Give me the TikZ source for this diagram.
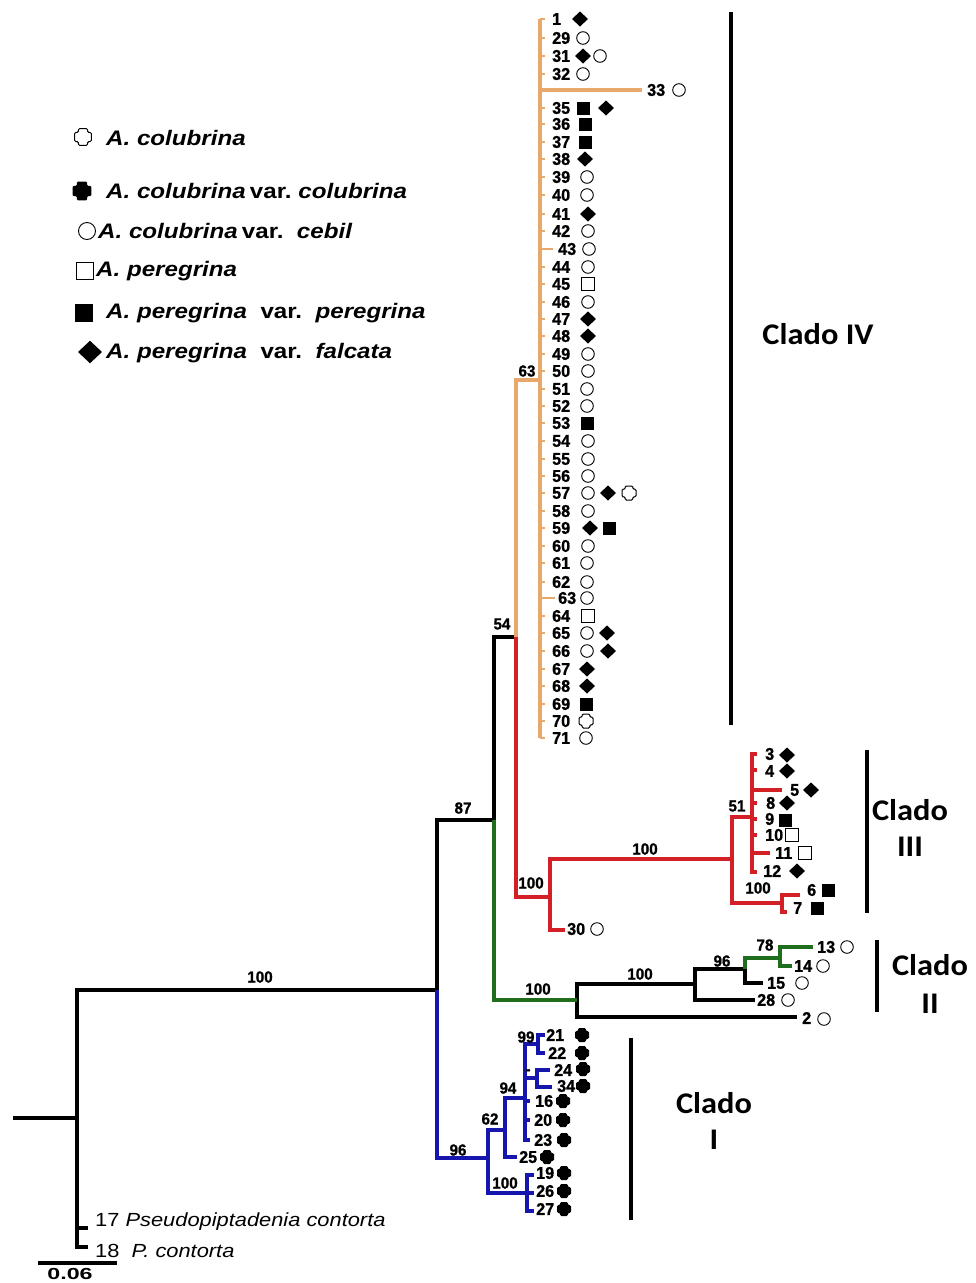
\documentclass[tikz,border=0pt]{standalone}
\usepackage{fontspec}
\setmainfont{Liberation Sans}
\newfontfamily\numf[FakeStretch=0.95,BoldFeatures={FakeBold=1}]{Liberation Sans}
\newfontfamily\legf[FakeStretch=1.15]{Liberation Sans}
\newfontfamily\widef[FakeStretch=1.45]{Liberation Sans}
\newfontfamily\cladof[FakeStretch=1.08]{Carlito}
\definecolor{orng}{RGB}{232,168,108}
\definecolor{rd}{RGB}{210,32,38}
\definecolor{grn}{RGB}{30,110,30}
\definecolor{blu}{RGB}{22,22,175}
\newcommand\symCirc[3][1]{\draw[line width=0.9pt,shift={(#2,#3)},scale=#1] (0,0) circle (6.3pt);}
\newcommand\symDia[3][1]{\fill[shift={(#2,#3)},scale=#1] (0,-7.5) -- (8,0) -- (0,7.5) -- (-8,0) -- cycle;}
\newcommand\symFsq[3][1]{\fill[shift={(#2,#3)},scale=#1] (-6.5,-6.5) rectangle (6.5,6.5);}
\newcommand\symOsq[3][1]{\draw[line width=0.9pt,shift={(#2,#3)},scale=#1] (-6.5,-6.5) rectangle (6.5,6.5);}
\newcommand\crosspath{(-3.8,-7) -- (3.8,-7) -- (3.8,-3.8) -- (7,-3.8) -- (7,3.8) -- (3.8,3.8) -- (3.8,7) -- (-3.8,7) -- (-3.8,3.8) -- (-7,3.8) -- (-7,-3.8) -- (-3.8,-3.8) -- cycle}
\newcommand\symFcr[3][1]{\fill[rounded corners=1.2pt,shift={(#2,#3)},scale=#1] \crosspath;}
\newcommand\symOcr[3][1]{\draw[line width=1pt,rounded corners=1.2pt,shift={(#2,#3)},scale=#1] \crosspath;}
\begin{document}
\begin{tikzpicture}[x=1pt,y=-1pt,
  br/.style={line width=3.2pt},
  tk/.style={line width=2pt,orng},
  tipn/.style={font=\numf\bfseries\fontsize{17}{17}\selectfont, inner sep=0pt, anchor=west},
  bs/.style={font=\numf\bfseries\fontsize{16}{16}\selectfont, inner sep=0pt},
  leg/.style={font=\legf\bfseries\itshape\fontsize{21}{21}\selectfont, inner sep=0pt, anchor=west},
  outg/.style={font=\legf\fontsize{19}{19}\selectfont, inner sep=0pt, anchor=west},
  clado/.style={font=\cladof\bfseries\fontsize{30}{30}\selectfont, inner sep=0pt},
  cbar/.style={line width=4pt}]
\fill[white] (0,0) rectangle (976,1283);
\useasboundingbox (0,0) rectangle (976,1283);

% ---------- internal nodes
\coordinate (rootL) at (13,1118);
\coordinate (nRoot) at (77,1118);
\coordinate (n100) at (437,990);
\coordinate (n87) at (494,820);
\coordinate (n54) at (516,637);
\coordinate (n63) at (540,380);
\coordinate (nR) at (550,897);
\coordinate (nIII) at (732,859);
\coordinate (n51) at (752,817);
\coordinate (nIIIb) at (782,903);
\coordinate (nG) at (577,1000);
\coordinate (nK) at (695,984);
\coordinate (n96) at (745,969);
\coordinate (n78) at (780,958);
\coordinate (nB) at (488,1158);
\coordinate (n62) at (505,1130);
\coordinate (n94) at (525,1098);
\coordinate (n99) at (538,1044);
\coordinate (nD) at (537,1078);
\coordinate (nC) at (527,1193);

% ---------- tip coordinates (outside clade IV)
\coordinate (t17) at (88,1228);
\coordinate (t18) at (88,1247);
\coordinate (t30) at (565,930);
\coordinate (t3) at (757,754);
\coordinate (t4) at (757,770);
\coordinate (t5) at (782,790);
\coordinate (t8) at (757,803);
\coordinate (t9) at (757,819);
\coordinate (t10) at (757,835);
\coordinate (t11) at (770,853);
\coordinate (t12) at (757,872);
\coordinate (t6) at (800,895);
\coordinate (t7) at (787,912);
\coordinate (t13) at (813,947);
\coordinate (t14) at (792,966);
\coordinate (t15) at (763,983);
\coordinate (t28) at (755,1000);
\coordinate (t2) at (797,1017);
\coordinate (t21) at (545,1035);
\coordinate (t22) at (545,1053);
\coordinate (t24) at (550,1070);
\coordinate (t34) at (552,1087);
\coordinate (t16) at (530,1101);
\coordinate (t20) at (530,1120);
\coordinate (t23) at (530,1140);
\coordinate (t25) at (517,1157);
\coordinate (t19) at (534,1175);
\coordinate (t26) at (534,1193);
\coordinate (t27) at (534,1211);
\coordinate (t33) at (642,90);

% ---------- black branches
\draw[br] (rootL) -- (nRoot);
\draw[br] (nRoot) |- (n100);
\draw[br] (nRoot) |- (t17);
\draw[br] (nRoot) |- (t18);
\draw[br] (n100) |- (n87);
\draw[br] (n87) |- (n54);
\draw[br] (nG) |- (nK);
\draw[br] (nG) |- (t2);
\draw[br] (nK) |- (n96);
\draw[br] (nK) |- (t28);
\draw[br] (n96) |- (t15);

% ---------- green
\draw[br,grn] (n87) |- (nG);
\draw[br,grn] (n96) |- (n78);
\draw[br,grn] (n78) |- (t13);
\draw[br,grn] (n78) |- (t14);

% ---------- blue
\draw[br,blu] (n100) |- (nB);
\draw[br,blu] (nB) |- (n62);
\draw[br,blu] (nB) |- (nC);
\draw[br,blu] (n62) |- (n94);
\draw[br,blu] (n62) |- (t25);
\draw[br,blu] (n94) |- (n99);
\draw[br,blu] (n94) |- (nD);
\foreach \t in {16,20,23} \draw[br,blu] (n94) |- (t\t);
\foreach \t in {21,22} \draw[br,blu] (n99) |- (t\t);
\foreach \t in {24,34} \draw[br,blu] (nD) |- (t\t);
\foreach \t in {19,26,27} \draw[br,blu] (nC) |- (t\t);

% ---------- red
\draw[br,rd] (n54) |- (nR);
\draw[br,rd] (nR) |- (nIII);
\draw[br,rd] (nR) |- (t30);
\draw[br,rd] (nIII) |- (n51);
\draw[br,rd] (nIII) |- (nIIIb);
\foreach \t in {3,4,5,8,9,10,11,12} \draw[br,rd] (n51) |- (t\t);
\foreach \t in {6,7} \draw[br,rd] (nIIIb) |- (t\t);

% ---------- orange (Clado IV)
\draw[br,orng] (n54) |- (n63);
\foreach \n/\y in {1/19,29/38,31/56,32/74,35/108,36/124,37/142,38/159,39/177,40/195,41/214,42/231,44/267,45/284,46/302,47/319,48/336,49/354,50/371,51/389,52/406,53/423,54/441,55/459,56/476,57/493,58/511,59/528,60/546,61/563,62/582,64/616,65/633,66/651,67/669,68/686,69/704,70/721,71/738}{
  \coordinate (t\n) at (545,\y);
  \draw[tk] (n63 |- t\n) -- (t\n);
  \node[tipn] (l\n) at (552,\y) {\n};
}
\coordinate (t43) at (553,249);
\coordinate (t63) at (555,598);
\draw[tk] (n63 |- t43) -- (t43);
\draw[tk] (n63 |- t63) -- (t63);
\node[tipn] (l43) at (558,249) {43};
\node[tipn] (l63) at (558,598) {63};
\draw[br,orng] (n63 |- t1) -- (n63 |- t71);
\draw[br,orng] (n63 |- t33) -- (t33);
\node[tipn] (l33) at (647,90) {33};

% ---------- Clado IV symbols
\symDia{580}{19}
\symCirc{583}{38}
\symDia{583}{56}\symCirc{600}{56}
\symCirc{583}{74}
\symCirc{679}{90}
\symFsq{583}{108}\symDia{606}{108}
\symFsq{585}{124}
\symFsq{585}{142}
\symDia{585}{159}
\symCirc{587}{177}
\symCirc{587}{195}
\symDia{588}{214}
\symCirc{588}{231}
\symCirc{589}{249}
\symCirc{588}{267}
\symOsq{588}{284}
\symCirc{588}{302}
\symDia{588}{319}
\symDia{588}{336}
\symCirc{588}{354}
\symCirc{588}{371}
\symCirc{587}{389}
\symCirc{587}{406}
\symFsq{587}{423}
\symCirc{588}{441}
\symCirc{588}{459}
\symCirc{588}{476}
\symCirc{588}{493}\symDia{608}{493}\symOcr{629}{493}
\symCirc{588}{511}
\symDia{590}{528}\symFsq{609}{528}
\symCirc{588}{546}
\symCirc{587}{563}
\symCirc{587}{582}
\symCirc{587}{598}
\symOsq{588}{616}
\symCirc{587}{633}\symDia{607}{633}
\symCirc{587}{651}\symDia{608}{651}
\symDia{587}{669}
\symDia{587}{686}
\symFsq{586}{704}
\symOcr{586}{721}
\symCirc{586}{738}

% ---------- Clado III labels
\node[tipn] (l30) at (567,929) {30}; \symCirc{597}{929}
\node[tipn] (l3) at (765,754) {3}; \symDia{787}{755}
\node[tipn] (l4) at (765,771) {4}; \symDia{787}{771}
\node[tipn] (l5) at (790,790) {5}; \symDia{811}{790}
\node[tipn] (l8) at (766,803) {8}; \symDia{787}{803}
\node[tipn] (l9) at (765,819) {9}; \symFsq{785}{820}
\node[tipn] (l10) at (765,835) {10}; \symOsq{792}{835}
\node[tipn] (l11) at (775,853) {11}; \symOsq{805}{853}
\node[tipn] (l12) at (763,871) {12}; \symDia{797}{871}
\node[tipn] (l6) at (807,890) {6}; \symFsq{828}{890}
\node[tipn] (l7) at (793,908) {7}; \symFsq{817}{908}

% ---------- Clado II labels
\node[tipn] (l13) at (817,947) {13}; \symCirc{847}{947}
\node[tipn] (l14) at (794,966) {14}; \symCirc{823}{966}
\node[tipn] (l15) at (767,983) {15}; \symCirc{802}{983}
\node[tipn] (l28) at (757,1000) {28}; \symCirc{788}{1000}
\node[tipn] (l2) at (802,1018) {2}; \symCirc{824}{1019}

% ---------- Clado I labels
\node[tipn] (l21) at (546,1035) {21}; \symFcr{582}{1035}
\node[tipn] (l22) at (548,1053) {22}; \symFcr{582}{1053}
\node[tipn] (l24) at (554,1070) {24}; \symFcr{583}{1069}
\node[tipn] (l34) at (557,1086) {34}; \symFcr{583}{1086}
\node[tipn] (l16) at (535,1101) {16}; \symFcr{563}{1101}
\node[tipn] (l20) at (534,1120) {20}; \symFcr{563}{1120}
\node[tipn] (l23) at (534,1140) {23}; \symFcr{564}{1140}
\node[tipn] (l25) at (519,1157) {25}; \symFcr{547}{1157}
\node[tipn] (l19) at (536,1173) {19}; \symFcr{564}{1173}
\node[tipn] (l26) at (536,1191) {26}; \symFcr{564}{1191}
\node[tipn] (l27) at (536,1209) {27}; \symFcr{564}{1209}

% ---------- outgroup labels
\node[outg] (l17) at (95,1222) {17 \textit{Pseudopiptadenia contorta}};
\node[outg] (l18) at (95,1251) {18\ \ \textit{P. contorta}};

% ---------- bootstrap values
\node[bs] (b1) at (260,977) {100};
\node[bs] (b2) at (463,808) {87};
\node[bs] (b3) at (502,624) {54};
\node[bs] (b4) at (527,371) {63};
\node[bs] (b5) at (531,883) {100};
\node[bs] (b6) at (645,849) {100};
\node[bs] (b7) at (737,806) {51};
\node[bs] (b8) at (758,888) {100};
\node[bs] (b9) at (538,989) {100};
\node[bs] (b10) at (640,974) {100};
\node[bs] (b11) at (722,961) {96};
\node[bs] (b12) at (765,945) {78};
\node[bs] (b13) at (458,1150) {96};
\node[bs] (b14) at (490,1119) {62};
\node[bs] (b15) at (508,1088) {94};
\node[bs] (b16) at (526,1037) {99};
\node[bs] (b17) at (528,1072) {-};
\node[bs] (b18) at (505,1183) {100};

% ---------- scale bar
\coordinate (sb1) at (38,1263);
\coordinate (sb2) at (117,1263);
\draw[br] (sb1) -- (sb2);
\node[font=\widef\bfseries\fontsize{16}{16}\selectfont, inner sep=0pt] (sbl) at (70,1274) {0.06};

% ---------- clade bars and names
\coordinate (c4a) at (731,12); \coordinate (c4b) at (731,725);
\coordinate (c3a) at (867,750); \coordinate (c3b) at (867,913);
\coordinate (c2a) at (877,940); \coordinate (c2b) at (877,1012);
\coordinate (c1a) at (631,1038); \coordinate (c1b) at (631,1220);
\draw[cbar] (c4a) -- (c4b);
\draw[cbar] (c3a) -- (c3b);
\draw[cbar] (c2a) -- (c2b);
\draw[cbar] (c1a) -- (c1b);
\node[clado] (k4) at (818,334) {Clado IV};
\node[clado] (k3a) at (910,810) {Clado};
\node[clado] (k3b) at (910,847) {III};
\node[clado] (k2a) at (930,965) {Clado};
\node[clado] (k2b) at (930,1004) {II};
\node[clado] (k1a) at (714,1103) {Clado};
\node[clado] (k1b) at (714,1140) {I};

% ---------- legend
\symOcr[1.2]{83}{137}
\node[leg] (g1) at (106,138) {A. colubrina};
\symFcr[1.35]{82}{191}
\node[leg] (g2) at (106,191) {A. colubrina\hspace{-0.12em} \textup{var.}\hspace{-0.1em} colubrina};
\symCirc[1.35]{87}{231}
\node[leg] (g3) at (98,231) {A. colubrina\hspace{-0.12em} \textup{var.}\ \ cebil};
\symOsq[1.25]{85}{271}
\node[leg] (g4) at (96,271) {A. peregrina};
\symFsq[1.4]{84}{313}
\node[leg] (g5) at (106,313) {A. peregrina\ \ \textup{var.}\ \ peregrina};
\symDia[1.5]{90}{352}
\node[leg] (g6) at (106,353) {A. peregrina\ \ \textup{var.}\ \ falcata};
\end{tikzpicture}
\end{document}
